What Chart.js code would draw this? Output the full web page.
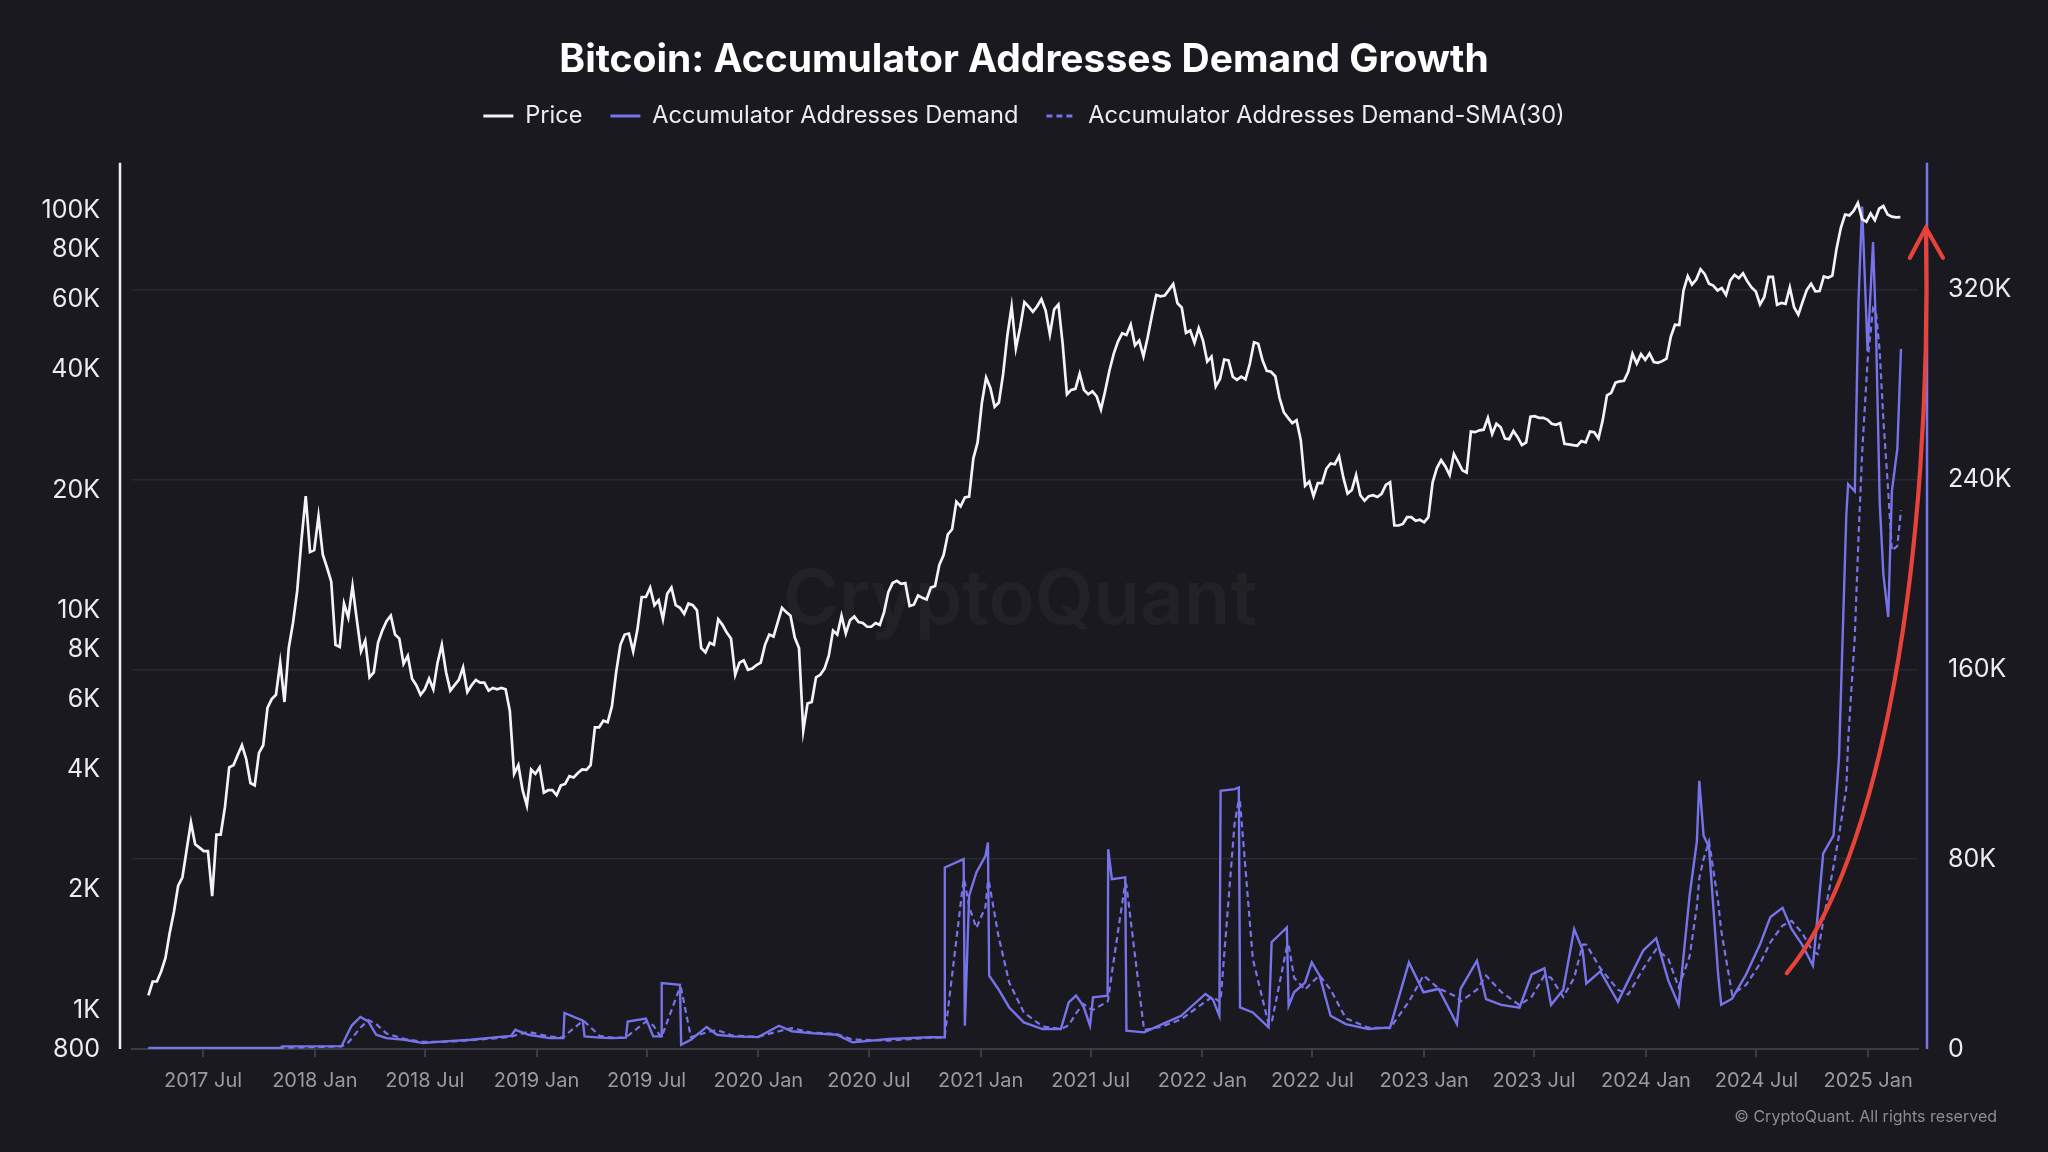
<!DOCTYPE html>
<html>
<head>
<meta charset="utf-8">
<title>Bitcoin: Accumulator Addresses Demand Growth</title>
<script src="https://cdn.jsdelivr.net/npm/chart.js@4.4.1/dist/chart.umd.min.js"></script>
<style>
  html, body { margin: 0; padding: 0; background: #19191f; }
  #wrap { width: 2048px; height: 1152px; }
</style>
</head>
<body>
<div id="wrap"><canvas id="chart" width="2048" height="1152"></canvas></div>
<script>
// weekly BTC price (Sundays), starting 2017-04-02
const priceStart = "2017-04-02";
const priceWeekly = [
  1090, 1180, 1180, 1250, 1350, 1560, 1760, 2050, 2150, 2520, 2950, 2600, 2550, 2500, 2500, 1930, 2750, 2750,
  3220, 4050, 4100, 4350, 4600, 4250, 3700, 3650, 4400, 4600, 5700, 6000, 6150, 7400, 5900, 8050, 9300,
  11200, 15000, 19300, 14000, 14150,
  // 2018
  17200, 13800, 12800, 11800, 8200, 8100, 10400, 9600, 11500, 9500, 7900, 8400, 6800, 7000, 8300, 8900, 9400,
  9700, 8700, 8500, 7350, 7700, 6750, 6500, 6150, 6350, 6750, 6350, 7400, 8200, 7000, 6300, 6500, 6700,
  7200, 6250, 6500, 6700, 6600, 6600, 6300, 6400, 6350, 6400, 6350, 5600, 3900, 4100, 3550, 3250, 4000, 3900,
  // 2019
  4050, 3500, 3550, 3550, 3450, 3650, 3680, 3850, 3820, 3920, 4000, 3990, 4100, 5100, 5100, 5300, 5250,
  5750, 7000, 8200, 8700, 8750, 7900, 8950, 10800, 10800, 11400, 10300, 10600, 9500, 11000, 11400, 10300, 10150,
  9800, 10400, 10300, 10000, 8050, 7850, 8300, 8200, 9500, 9200, 8800, 8500, 6900, 7400, 7500, 7100, 7150, 7300,
  // 2020
  7400, 8200, 8700, 8600, 9350, 10150, 9900, 9700, 8550, 8050, 5000, 5850, 5900, 6800, 6900, 7150, 7700,
  8900, 8700, 9700, 8750, 9450, 9650, 9350, 9300, 9100, 9100, 9300, 9200, 9900, 11100, 11700, 11850, 11650, 11700,
  10250, 10330, 10900, 10750, 10650, 11400, 11500, 13000, 13750, 15500, 15950, 18700, 18200, 19150, 19250, 24000, 26300,
  // 2021
  33000, 38200, 36000, 32300, 33100, 39000, 48700, 57500, 45200, 51000, 59000, 57500, 55800, 57600, 60000, 56200, 49000,
  56600, 58200, 46400, 34700, 35600, 35800, 39100, 35600, 34700, 35300, 34300, 31800, 35400, 39800, 43800, 47000, 49300, 48800,
  51800, 46000, 47300, 43200, 48200, 54700, 61500, 61000, 61300, 63300, 65500, 58600, 57200, 49400, 50100, 46700, 50800,
  // 2022
  47300, 41900, 43100, 36300, 37900, 42400, 42200, 38400, 37700, 38400, 37800, 41300, 46800, 46400, 42200, 39700, 39500,
  38500, 34000, 31300, 30300, 29400, 29900, 26600, 20500, 21000, 19300, 20800, 20800, 22600, 23300, 23200, 24300, 21500, 19600,
  20000, 21800, 19400, 18800, 19300, 19400, 19200, 19550, 20600, 20900, 16300, 16300, 16450, 17100, 17100, 16750, 16850,
  // 2023
  16600, 17100, 20900, 22700, 23750, 22900, 21800, 24600, 23500, 22400, 22100, 28000, 27900, 28200, 28300, 30300, 27600, 29300,
  28700, 26900, 26800, 28100, 27100, 25900, 26300, 30500, 30600, 30300, 30300, 30000, 29300, 29100, 29400, 26100, 26000,
  25900, 25800, 26500, 26300, 28000, 27900, 26900, 29900, 34500, 35000, 37100, 37400, 37500, 39500, 43800, 41400, 43700, 42300,
  // 2024
  43900, 41800, 41600, 42000, 42600, 48300, 51800, 51700, 63100, 68500, 65300, 67200, 71300, 69300, 65600, 64900, 63100,
  64000, 61500, 66900, 69000, 67700, 69600, 66500, 64200, 62700, 58200, 60800, 68200, 68200, 58100, 58700, 58400, 64200,
  57300, 54900, 59100, 63300, 65600, 62800, 62900, 68400, 67900, 68700, 80400, 90500, 97700, 97200, 99800, 104400, 95100, 93700,
  // 2025
  98300, 94500, 101000, 102600, 97700, 96500, 96100, 96200
];

// accumulator addresses demand and its SMA(30), in thousands
const demandDates = [
  "2017-04-02", "2017-11-05", "2017-11-08", "2018-02-14", "2018-02-24", "2018-03-03", "2018-03-17", "2018-03-30", "2018-04-12",
  "2018-04-29", "2018-05-29", "2018-06-28", "2018-08-02", "2018-09-15", "2018-10-28", "2018-11-20", "2018-11-27", "2018-12-19",
  "2019-01-22", "2019-02-14", "2019-02-16", "2019-03-18", "2019-03-21", "2019-04-15", "2019-05-05", "2019-05-28", "2019-05-31",
  "2019-06-30", "2019-07-12", "2019-07-25", "2019-07-26", "2019-08-25", "2019-08-27", "2019-09-12", "2019-10-08", "2019-10-25", "2019-11-20",
  "2020-01-01", "2020-02-04", "2020-02-25", "2020-03-27", "2020-05-09", "2020-06-04", "2020-08-03", "2020-10-11", "2020-11-02",
  "2020-11-03", "2020-12-04", "2020-12-06", "2020-12-13", "2020-12-25",
  "2021-01-09", "2021-01-13", "2021-01-15", "2021-01-30", "2021-02-17", "2021-03-13", "2021-04-13", "2021-05-13", "2021-05-26",
  "2021-06-07", "2021-06-19", "2021-06-30", "2021-07-05", "2021-07-29", "2021-07-30", "2021-08-05", "2021-08-27", "2021-08-29",
  "2021-09-27", "2021-10-27", "2021-11-27",
  "2022-01-06", "2022-01-18", "2022-01-29", "2022-01-31", "2022-02-23", "2022-03-02", "2022-03-04", "2022-03-25", "2022-04-20",
  "2022-04-25", "2022-05-20", "2022-05-23", "2022-06-01", "2022-06-19", "2022-06-30", "2022-07-13", "2022-07-31", "2022-08-25",
  "2022-10-01", "2022-11-06", "2022-12-07", "2022-12-31",
  "2023-01-25", "2023-02-24", "2023-03-02", "2023-03-29", "2023-04-13", "2023-05-08", "2023-06-07", "2023-06-27", "2023-07-18",
  "2023-07-29", "2023-08-18", "2023-09-05", "2023-09-19", "2023-09-25", "2023-10-18", "2023-11-16", "2023-12-03", "2023-12-28",
  "2024-01-18", "2024-02-07", "2024-02-24", "2024-03-13", "2024-03-25", "2024-03-29", "2024-04-05", "2024-04-14", "2024-04-29",
  "2024-05-04", "2024-05-22", "2024-06-14", "2024-07-07", "2024-07-24", "2024-08-13", "2024-08-28", "2024-09-14", "2024-10-02",
  "2024-10-10", "2024-10-19", "2024-11-05", "2024-11-14", "2024-11-26", "2024-11-29", "2024-12-10", "2024-12-16", "2024-12-22", "2024-12-31",
  "2025-01-09", "2025-01-14", "2025-01-20", "2025-01-26", "2025-02-03", "2025-02-09", "2025-02-18", "2025-02-24"
];
const demandK = [
  0.4, 0.4, 1.1, 1.2, 6.5, 10.0, 13.5, 11.6, 6.0, 4.6, 3.9, 2.5, 3.2, 3.9, 5.0, 5.5, 8.1, 6.0,
  4.6, 4.6, 15.2, 12.0, 5.3, 4.8, 4.6, 4.8, 11.6, 12.8, 5.3, 5.3, 27.8, 27.0, 1.8, 3.9, 9.3, 6.0, 5.3,
  5.0, 9.8, 7.5, 6.7, 6.0, 2.8, 4.2, 5.0, 4.9, 76.5, 80.0, 9.8, 64.6, 74.4,
  81.4, 87.0, 30.9, 25.3, 17.5, 11.2, 8.4, 8.4, 19.6, 22.5, 18.2, 9.8, 21.8, 22.5, 84.2, 71.6, 72.3, 7.7, 7.0, 10.5, 14.0,
  23.2, 21.0, 14.0, 108.8, 109.5, 110.2, 17.5, 15.4, 9.1, 45.0, 51.2, 18.2, 23.9, 28.0, 36.5, 30.9, 14.0, 10.5, 8.4, 9.1, 36.5, 23.9,
  25.3, 10.5, 25.3, 37.2, 21.0, 18.6, 17.4, 31.4, 34.0, 18.6, 25.0, 50.5, 41.6, 27.6, 32.7, 19.9, 28.8, 41.6,
  46.7, 28.8, 18.6, 64.6, 87.5, 113.0, 90.0, 85.0, 31.4, 18.6, 21.2, 31.4, 44.1, 55.6, 59.5, 50.5, 44.1, 35.2,
  56.9, 82.4, 90.0, 123.0, 225.0, 238.0, 235.0, 315.0, 355.0, 294.0,
  340, 302, 230, 200, 182, 235, 253, 295
];
const smaK = [
  0.4, 0.4, 0.5, 1.1, 2.5, 4.5, 9.0, 12.2, 10.5, 6.5, 4.2, 3.0, 3.0, 3.7, 4.6, 5.1, 5.8, 7.2,
  5.2, 4.8, 5.5, 11.8, 11.5, 5.5, 4.8, 4.7, 5.5, 11.5, 10.0, 5.0, 5.2, 26.0, 25.5, 5.0, 7.0, 8.0, 5.6,
  5.2, 7.5, 8.8, 7.0, 6.3, 4.0, 3.5, 4.8, 4.9, 5.5, 71.6, 70.0, 60.0, 51.0,
  60.0, 71.0, 70.0, 48.0, 28.0, 15.4, 9.5, 8.4, 10.0, 15.0, 19.0, 17.0, 16.5, 20.0, 21.0, 32.0, 70.0, 69.0, 8.0, 9.5, 12.5,
  20.0, 22.0, 20.0, 20.5, 95.0, 105.0, 104.0, 38.0, 10.5, 11.0, 43.0, 44.0, 30.0, 25.0, 28.0, 31.0, 25.0, 13.0, 9.0, 8.8, 20.0, 31.0,
  25.5, 22.0, 20.0, 25.0, 31.0, 24.0, 18.5, 22.0, 31.0, 30.0, 22.0, 30.0, 44.0, 44.0, 34.0, 25.0, 23.0, 34.0,
  42.0, 38.0, 26.0, 39.0, 60.0, 72.0, 80.0, 87.5, 62.0, 50.0, 23.0, 27.0, 36.0, 45.0, 52.0, 54.0, 49.0, 41.0,
  40.0, 54.0, 77.0, 90.0, 110.0, 130.0, 174.0, 215.0, 251.0, 290.0,
  312, 310, 294, 265, 235, 210, 212, 227
];

const xTickLabels = [
  "2017 Jul", "2018 Jan", "2018 Jul", "2019 Jan", "2019 Jul", "2020 Jan", "2020 Jul", "2021 Jan",
  "2021 Jul", "2022 Jan", "2022 Jul", "2023 Jan", "2023 Jul", "2024 Jan", "2024 Jul", "2025 Jan"
];
const priceTicks = [800, 1000, 2000, 4000, 6000, 8000, 10000, 20000, 40000, 60000, 80000, 100000];
const demandTicks = [0, 80, 160, 240, 320];

// red arrow drawn over the chart (start, two control points, tip) in date / demand(K) space
const arrowPath = [["2024-08-20", 32], ["2025-01-22", 79], ["2025-04-17", 206], ["2025-04-06", 346]];

const xMinDate = "2017-03-06";
const xMaxDate = "2025-03-24";

const PURPLE = "#7774ea";

function dayOf(str) {
    const [y, m, d] = str.split("-").map(Number);
    return (Date.UTC(y, m - 1, d) - Date.UTC(2017, 0, 1)) / 86400000;
}
const monthIdx = { Jan: "01", Jul: "07" };
const xTickDays = xTickLabels.map(l => {
    const [yr, mo] = l.split(" ");
    return dayOf(`${yr}-${monthIdx[mo]}-01`);
});

const startDay = dayOf(priceStart);
const priceData = priceWeekly.map((v, i) => ({ x: startDay + i * 7, y: v }));
const demandData = demandDates.map((d, i) => ({ x: dayOf(d), y: demandK[i] }));
const smaData = demandDates.map((d, i) => ({ x: dayOf(d), y: smaK[i] }));

Chart.defaults.font.family = "Inter, 'DejaVu Sans', sans-serif";

const decor = {
    id: "decor",
    beforeDatasetsDraw(chart) {
        const { ctx, chartArea } = chart;
        ctx.save();
        ctx.font = "600 76px Inter";
        ctx.fillStyle = "rgba(255,255,255,0.035)";
        ctx.textAlign = "center";
        ctx.textBaseline = "middle";
        ctx.fillText("CryptoQuant", (chartArea.left + chartArea.right) / 2 - 5, 601);
        ctx.restore();
    },
    afterDatasetsDraw(chart) {
        const { ctx, chartArea, scales } = chart;
        ctx.save();
        // axis lines
        ctx.lineWidth = 2.5;
        ctx.strokeStyle = "#eeeef0";
        ctx.beginPath();
        ctx.moveTo(chartArea.left - 12, chartArea.top);
        ctx.lineTo(chartArea.left - 12, chartArea.bottom);
        ctx.stroke();
        ctx.strokeStyle = PURPLE;
        ctx.beginPath();
        ctx.moveTo(chartArea.right + 9, chartArea.top);
        ctx.lineTo(chartArea.right + 9, chartArea.bottom);
        ctx.stroke();

        // red arrow
        const pts = arrowPath.map(p => [scales.x.getPixelForValue(dayOf(p[0])), scales.yDemand.getPixelForValue(p[1])]);
        ctx.strokeStyle = "#e8433a";
        ctx.lineWidth = 4.2;
        ctx.lineCap = "round";
        ctx.beginPath();
        ctx.moveTo(pts[0][0], pts[0][1]);
        ctx.bezierCurveTo(pts[1][0], pts[1][1], pts[2][0], pts[2][1], pts[3][0], pts[3][1]);
        ctx.stroke();
        const tip = pts[3];
        ctx.beginPath();
        ctx.moveTo(tip[0] - 16, tip[1] + 30);
        ctx.lineTo(tip[0], tip[1]);
        ctx.lineTo(tip[0] + 17, tip[1] + 30);
        ctx.stroke();
        ctx.restore();
    },
    afterDraw(chart) {
        const { ctx } = chart;
        ctx.save();
        ctx.font = "16px Inter";
        ctx.fillStyle = "#8c8c94";
        ctx.textAlign = "right";
        ctx.textBaseline = "middle";
        ctx.fillText("\u00A9 CryptoQuant. All rights reserved", 1997, 1117);
        ctx.restore();
    }
};

const ctx = document.getElementById("chart").getContext("2d");
let chart = new Chart(ctx, {
    type: "line",
    data: {
        datasets: [
            {
                label: "Price",
                data: priceData,
                yAxisID: "yPrice",
                borderColor: "#f4f4f6",
                backgroundColor: "#f4f4f6",
                borderWidth: 2.7,
                pointRadius: 0,
                tension: 0
            },
            {
                label: "Accumulator Addresses Demand",
                data: demandData,
                yAxisID: "yDemand",
                borderColor: PURPLE,
                backgroundColor: PURPLE,
                borderWidth: 2.4,
                pointRadius: 0,
                tension: 0
            },
            {
                label: "Accumulator Addresses Demand-SMA(30)",
                data: smaData,
                yAxisID: "yDemand",
                borderColor: PURPLE,
                backgroundColor: PURPLE,
                borderWidth: 2.2,
                borderDash: [6, 4],
                pointRadius: 0,
                tension: 0
            }
        ]
    },
    options: {
        responsive: false,
        devicePixelRatio: 1,
        animation: false,
        events: [],
        layout: { padding: 0 },
        plugins: {
            title: {
                display: true,
                text: "Bitcoin: Accumulator Addresses Demand Growth",
                color: "#ffffff",
                font: { size: 39, weight: "bold", lineHeight: 0.8 },
                padding: { top: 45, bottom: 0 }
            },
            subtitle: {
                // empty spacer between legend and plot
                display: true,
                text: "",
                weight: 900,
                font: { size: 2, lineHeight: 1 },
                padding: { top: 23, bottom: 0 }
            },
            legend: {
                display: true,
                labels: {
                    color: "#ececf0",
                    font: { size: 23.6 },
                    usePointStyle: true,
                    pointStyle: "line",
                    pointStyleWidth: 30,
                    padding: 28,
                    // point-style items lose the dataset dash, put it back
                    generateLabels: chart => Chart.defaults.plugins.legend.labels.generateLabels(chart).map((item, i) => ({
                        ...item,
                        lineWidth: 3,
                        lineDash: chart.data.datasets[i].borderDash || []
                    }))
                }
            },
            tooltip: { enabled: false }
        },
        scales: {
            x: {
                type: "linear",
                min: dayOf(xMinDate),
                max: dayOf(xMaxDate),
                afterBuildTicks: s => { s.ticks = xTickDays.map(v => ({ value: v })); },
                afterFit: s => { s.height = 103; },
                ticks: {
                    autoSkip: false,
                    maxRotation: 0,
                    color: "#9a9aa2",
                    font: { size: 20 },
                    padding: 12,
                    callback: (v, i) => xTickLabels[i]
                },
                grid: { drawOnChartArea: false, drawTicks: true, tickLength: 8, color: "#3c3c46", lineWidth: 2 },
                border: { display: true, color: "#3c3c46", width: 2 }
            },
            yPrice: {
                type: "logarithmic",
                position: "left",
                min: 800,
                max: 131600,
                afterBuildTicks: s => { s.ticks = priceTicks.map(v => ({ value: v })); },
                afterFit: s => { s.width = 132; },
                ticks: {
                    color: "#ececf0",
                    font: { size: 25 },
                    padding: 32,
                    callback: v => v >= 1000 ? (v / 1000) + "K" : String(v)
                },
                grid: { display: false, drawTicks: false },
                border: { display: false }
            },
            yDemand: {
                type: "linear",
                position: "right",
                min: 0,
                max: 373.4,
                afterBuildTicks: s => { s.ticks = demandTicks.map(v => ({ value: v })); },
                afterFit: s => { s.width = 130; },
                ticks: {
                    color: "#ececf0",
                    font: { size: 25 },
                    padding: 30,
                    callback: v => v === 0 ? "0" : v + "K"
                },
                grid: { color: "#292931", lineWidth: 1.5, drawTicks: false },
                border: { display: false }
            }
        }
    },
    plugins: [decor]
});
</script>
</body>
</html>
